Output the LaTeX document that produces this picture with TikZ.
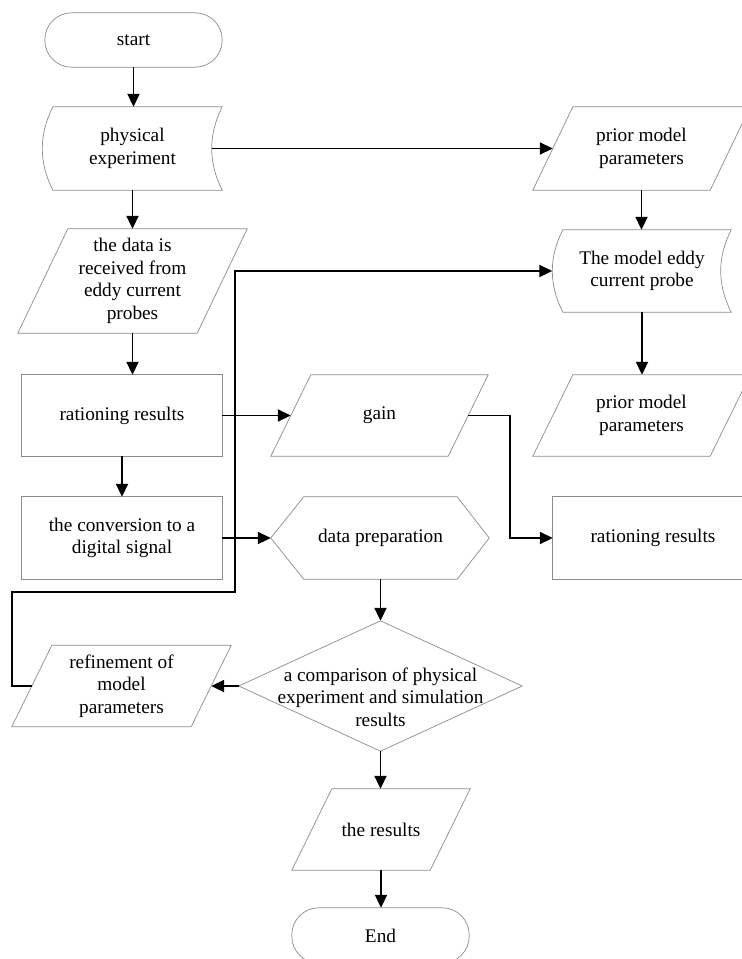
\documentclass[tikz,border=0pt]{standalone}
\usepackage{fontspec}
\setmainfont{Liberation Serif}
\usetikzlibrary{arrows.meta,calc}
\tikzset{
  box/.style={draw=none, inner sep=0pt, align=center, font=\fontsize{19.3pt}{22.5pt}\selectfont},
  shp/.style={draw=black!45, line width=0.7pt},
  conn/.style={draw=black, line width=1.9pt, -{Triangle[length=13pt,width=12pt]}},
}
\newcommand{\paraout}[2]{%
  \draw[shp] ([xshift=-#2]#1.south west) -- ([xshift=#2]#1.north west) -- ([xshift=#2]#1.north east) -- ([xshift=-#2]#1.south east) -- cycle;}
\newcommand{\tapeout}[1]{%
  \draw[shp] ([xshift=5pt]#1.north west) -- ([xshift=5pt]#1.north east)
    .. controls ([xshift=-9pt,yshift=-28pt]#1.north east) and ([xshift=-9pt,yshift=28pt]#1.south east) .. ([xshift=5pt]#1.south east)
    -- ([xshift=5pt]#1.south west)
    .. controls ([xshift=-9pt,yshift=28pt]#1.south west) and ([xshift=-9pt,yshift=-28pt]#1.north west) .. cycle;}
\begin{document}
\begin{tikzpicture}[x=1pt,y=-1pt]
\useasboundingbox (0,0) rectangle (742,959);
\clip (0,0) rectangle (742,959);
\fill[white] (0,0) rectangle (742,959);

% nodes
\node[box, minimum width=177pt, minimum height=54pt] (start) at (133.5,40) {start};
\node[box, minimum width=169pt, minimum height=83pt] (phys) at (132.5,148.5) {physical\\experiment};
\node[box, minimum width=179pt, minimum height=104pt] (data) at (132.5,281) {the data is\\received from\\eddy current\\probes};
\node[box, minimum width=200pt, minimum height=81pt] (rat1) at (122,415.5) {rationing results};
\node[box, minimum width=200pt, minimum height=82pt] (conv) at (122,538) {the conversion to a\\digital signal};
\node[box, minimum width=177pt, minimum height=81pt] (gain) at (379.5,415.5) {gain};
\node[box, minimum width=153pt, minimum height=82pt] (prep) at (380.5,538) {data preparation};
\node[box, minimum width=200pt, minimum height=82pt] (rat2) at (653,538) {rationing results};
\node[box, minimum width=177pt, minimum height=83pt] (prior) at (641.5,148.5) {prior model\\parameters};
\node[box, minimum width=168pt, minimum height=82pt] (model) at (642,271) {The model eddy\\current probe};
\node[box, minimum width=177pt, minimum height=81pt] (prior2) at (641.5,415.5) {prior model\\parameters};
\node[box, minimum width=283pt, minimum height=130pt] (cmp) at (380.5,686) {};
\node[box] (cmptext) at (380.5,697) {a comparison of physical\\experiment and simulation\\results};
\node[box, minimum width=179pt, minimum height=81pt] (refine) at (121.5,686) {refinement of\\model\\parameters};
\node[box, minimum width=138pt, minimum height=81pt] (results) at (381,829.5) {the results};
\node[box, minimum width=177pt, minimum height=55pt] (endn) at (380.5,935.5) {End};

% outlines
\draw[shp, rounded corners=27pt] (start.south west) rectangle (start.north east);
\draw[shp, rounded corners=27pt] (endn.south west) rectangle (endn.north east);
\tapeout{phys}
\tapeout{model}
\paraout{data}{25pt}
\paraout{gain}{20pt}
\paraout{prior}{20pt}
\paraout{prior2}{20pt}
\paraout{refine}{20pt}
\paraout{results}{20pt}
\draw[shp] (rat1.south west) rectangle (rat1.north east);
\draw[shp] (conv.south west) rectangle (conv.north east);
\draw[shp] (rat2.south west) rectangle (rat2.north east);
\draw[shp] ([xshift=-33pt]prep.west) -- (prep.north west) -- (prep.north east) -- ([xshift=32pt]prep.east) -- (prep.south east) -- (prep.south west) -- cycle;
\draw[shp] (cmp.north) -- (cmp.east) -- (cmp.south) -- (cmp.west) -- cycle;

% connectors
\draw[conn] (start.south) -- (start.south |- phys.north);
\draw[conn] (phys.south) -- (phys.south |- data.north);
\draw[conn] (data.south) -- (data.south |- rat1.north);
\draw[conn] (rat1.south) -- (conv.north);
\draw[conn] (rat1.east) -- (gain.west);
\draw[conn] (conv.east) -- ([xshift=-33pt]prep.west);
\draw[conn] (gain.east) -- ++(42,0) |- (rat2.west);
\draw[conn] ([xshift=-5.5pt]phys.east) -- (prior.west);
\draw[conn] (prior.south) -- (prior.south |- model.north);
\draw[conn] (model.south) -- (model.south |- prior2.north);
\draw[conn] (prep.south) -- (cmp.north);
\draw[conn] (cmp.west) -- (refine.east);
\draw[conn] (cmp.south) -- (cmp.south |- results.north);
\draw[conn] (results.south) -- (results.south |- endn.north);
\coordinate (fb1) at (12,592);
\coordinate (fb2) at (235,592);
\draw[conn] (refine.west) -| (fb1) -- (fb2) |- ([xshift=-5.5pt]model.west);
\end{tikzpicture}
\end{document}
